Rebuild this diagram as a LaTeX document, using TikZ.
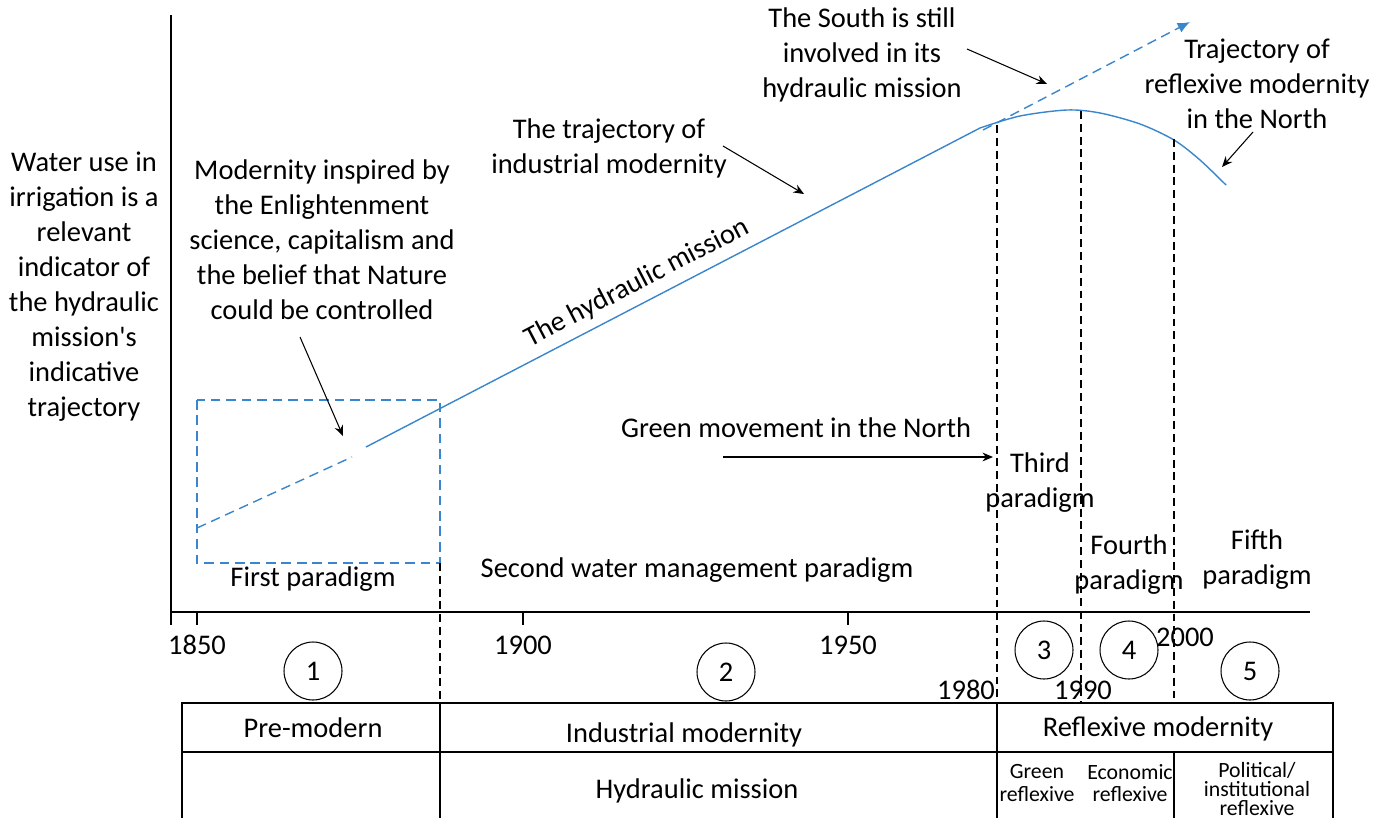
\documentclass[tikz,border=0pt]{standalone}
\usepackage{fontspec}
\newfontfamily\cfont{Carlito}
\usetikzlibrary{arrows.meta}
\definecolor{lineblue}{RGB}{58,134,204}

\begin{document}
\begin{tikzpicture}[x=0.02cm,y=-0.02cm,
  txt/.style={align=center,inner sep=0pt,font=\cfont\fontsize{16.2}{19.9}\selectfont},
  small/.style={align=center,inner sep=0pt,font=\cfont\fontsize{12.4}{13}\selectfont},
  tiny/.style={align=center,inner sep=0pt,font=\cfont\fontsize{12.4}{10.6}\selectfont},
  num/.style={draw,circle,minimum size=1.16cm,inner sep=0pt,line width=0.6pt,font=\cfont\fontsize{16.2}{18}\selectfont},
  pointer/.style={-{Stealth[length=6pt,width=5pt]},line width=0.6pt},
  guide/.style={dash pattern=on 4.5pt off 2.8pt,line width=0.6pt},
  bluepath/.style={lineblue,line width=0.8pt},
  bluedash/.style={lineblue,line width=0.8pt,dash pattern=on 5.5pt off 3.3pt}]
\useasboundingbox (0,0) rectangle (1386,818);

% axes
\draw[line width=0.7pt] (171,15) -- (171,625);
\draw[line width=0.7pt] (171,612) -- (1310,612);
\draw[line width=0.7pt] (197,612) -- (197,625);
\draw[line width=0.7pt] (523,612) -- (523,625);
\draw[line width=0.7pt] (848,612) -- (848,625);

\node[txt] (Y1850) at (197,645) {1850};
\node[txt] (Y1900) at (523,645) {1900};
\node[txt] (Y1950) at (848,645) {1950};
\node[txt] (Y1980) at (966,690) {1980};
\node[txt] (Y1990) at (1083,690) {1990};
\node[txt] (Y2000) at (1185,637) {2000};

% first paradigm box
\draw[bluedash] (197,400) rectangle (440,563);
\draw[bluedash] (197,528) -- (352,457);
\draw[bluepath] (366,447) -- (980,128);
\draw[bluepath] plot[smooth] coordinates {(980,128) (1020,116) (1067,110) (1100,113) (1140,124) (1174,140) (1200,160) (1226,185)};
\draw[bluedash,-{Latex[length=7pt,width=6pt]}] (983,130) -- (1190,22);

% period borders
\draw[guide] (440,563) -- (440,703);
\draw[guide] (997,125) -- (997,703);
\draw[guide] (1081,111) -- (1081,703);
\draw[guide] (1174,139) -- (1174,703);

% table
\draw[line width=0.7pt] (182,818) -- (182,703) -- (1333,703) -- (1333,818);
\draw[line width=0.7pt] (182,752) -- (1333,752);
\draw[line width=0.7pt] (440,703) -- (440,818);
\draw[line width=0.7pt] (997,703) -- (997,818);
\draw[line width=0.7pt] (1174,752) -- (1174,818);

\node[txt] (Pre) at (313,728) {Pre-modern};
\node[txt] (Ind) at (684,735) {Industrial modernity};
\node[txt] (Refl) at (1158,729) {Reflexive modernity};
\node[txt] (Hyd) at (697,791) {Hydraulic mission};
\node[small] (GreenR) at (1037,783) {Green\\reflexive};
\node[small] (EconR) at (1130,783) {Economic\\reflexive};
\node[tiny] (PolR) at (1257,789) {Political/\\institutional\\reflexive};

% circles
\node[num] (C1) at (313,671) {1};
\node[num] (C2) at (726,672) {2};
\node[num] (C3) at (1044,650) {3};
\node[num] (C4) at (1129,650) {4};
\node[num] (C5) at (1250,671) {5};

% labels
\node[txt] (WaterUse) at (84,287) {Water use in\\irrigation is a\\relevant\\indicator of\\the hydraulic\\mission's\\indicative\\trajectory};
\node[txt] (Modern) at (322,240) {Modernity inspired by\\the Enlightenment\\science, capitalism and\\the belief that Nature\\could be controlled};
\node[txt] (IndTraj) at (609,148) {The trajectory of\\industrial modernity};
\node[txt] (South) at (862,55) {The South is still\\involved in its\\hydraulic mission};
\node[txt] (NorthTraj) at (1257,84) {Trajectory of\\reflexive modernity\\in the North};
\node[txt,rotate=27.5] (HydMis) at (637,283) {The hydraulic mission};
\node[txt] (GreenMov) at (796,428) {Green movement in the North};
\node[txt] (First) at (313,579) {First paradigm};
\node[txt] (Second) at (697,570) {Second water management paradigm};
\node[txt] (Third) at (1040,483) {Third\\paradigm};
\node[txt] (Fourth) at (1129,565) {Fourth\\paradigm};
\node[txt] (Fifth) at (1257,560) {Fifth\\paradigm};

% pointers
\coordinate (a1) at (300,337);
\coordinate (b1) at (343,436);
\coordinate (a2) at (723,146);
\coordinate (b2) at (804,194);
\coordinate (a3) at (967,49);
\coordinate (b3) at (1047,84);
\coordinate (a4) at (1253,132);
\coordinate (b4) at (1222,167);
\coordinate (a5) at (723,457);
\coordinate (b5) at (993,457);
\draw[pointer] (a1) -- (b1);
\draw[pointer] (a2) -- (b2);
\draw[pointer] (a3) -- (b3);
\draw[pointer] (a4) -- (b4);
\draw[pointer] (a5) -- (b5);

\end{tikzpicture}
\end{document}
